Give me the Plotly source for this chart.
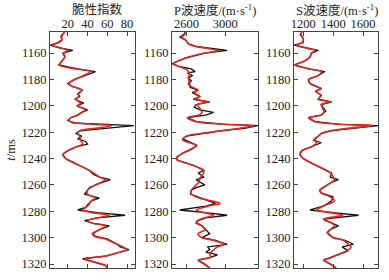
import plotly.graph_objects as go

# ---- Data ----
t_bi_black = [1144,1147,1150,1152,1154,1156,1158,1160,1163,1166,1169,1172,1174,1177,1180,1183,1185,1188,1191,1193,1195,1198,1200,1203,1205,1207,1209,1211,1213,1215,1217,1219,1221,1223,1225,1227,1229,1231,1234,1237,1240,1244,1249,1252,1254,1256,1258,1260,1262,1264,1267,1270,1272,1275,1277,1279,1281,1283,1285,1287,1289,1291,1294,1297,1299,1301,1305,1307,1309,1311,1314,1316,1318,1321,1323]
bi_black = [17,13,14,10,2,12,25,15,17,14,11,30,48,38,27,20,24,35,30,32,27,36,29,40,34,30,23,20,25,87,55,32,28,34,30,38,40,29,20,15,18,28,42,46,52,63,55,48,42,40,37,52,44,40,38,30,50,78,50,37,45,62,52,45,48,60,70,73,82,73,58,35,45,58,60]
t_bi_red = [1144,1147,1150,1152,1154,1156,1158,1160,1163,1166,1169,1172,1174,1177,1180,1183,1185,1188,1191,1193,1195,1198,1200,1203,1205,1207,1209,1211,1213,1215,1217,1219,1221,1223,1226,1229,1231,1234,1237,1240,1244,1249,1254,1256,1258,1260,1264,1267,1270,1272,1276,1279,1281,1283,1285,1287,1289,1291,1294,1297,1299,1301,1305,1309,1311,1314,1316,1318,1321,1323]
bi_red = [17,14,14,11,4,12,20,16,17,14,11,28,43,36,27,21,24,34,31,31,28,33,30,38,34,30,23,21,28,65,48,32,30,32,33,35,29,20,15,18,28,42,52,58,54,48,40,40,48,44,40,35,45,62,50,40,45,58,52,45,47,58,70,80,72,58,37,45,58,60]

t_vp_black = [1144,1146,1148,1150,1153,1155,1158,1160,1164,1168,1170,1172,1174,1175,1177,1179,1181,1183,1186,1188,1190,1193,1195,1197,1199,1201,1203,1205,1207,1209,1212,1214,1215,1217,1219,1221,1223,1225,1228,1230,1233,1236,1239,1241,1243,1246,1249,1251,1254,1256,1258,1260,1262,1264,1267,1270,1274,1276,1279,1281,1283,1285,1287,1289,1291,1294,1297,1300,1302,1305,1307,1309,1311,1313,1315,1317,1320,1323]
vp_black = [2590,2570,2530,2590,2620,2700,3020,2790,2580,2450,2520,2650,2690,2610,2660,2620,2650,2620,2640,2720,2660,2740,2670,2840,2700,2680,2740,2880,2800,2610,2700,3000,3340,3200,2950,2750,2600,2560,2640,2710,2650,2560,2500,2500,2580,2700,2780,2720,2780,2700,2740,2790,2700,2650,2640,2760,2900,2800,2530,2800,3020,2800,2720,2700,2760,2800,2840,2760,2900,3020,2820,2840,2800,2920,2850,2720,2790,2840]
t_vp_red = [1144,1146,1148,1150,1153,1155,1158,1160,1164,1168,1170,1173,1176,1179,1182,1185,1188,1190,1193,1195,1197,1199,1202,1205,1207,1209,1212,1214,1215,1217,1219,1221,1223,1226,1230,1233,1236,1239,1241,1243,1246,1249,1252,1255,1258,1260,1264,1267,1270,1274,1276,1279,1281,1283,1285,1288,1291,1294,1297,1300,1302,1305,1307,1310,1312,1315,1317,1320,1323]
vp_red = [2590,2580,2550,2590,2620,2700,2930,2790,2580,2460,2520,2610,2630,2620,2630,2640,2720,2680,2740,2680,2830,2710,2740,2760,2730,2610,2700,3000,3300,3150,2950,2750,2600,2560,2700,2640,2560,2500,2500,2580,2700,2780,2770,2740,2730,2700,2650,2650,2730,2950,2830,2700,2780,2880,2780,2700,2760,2790,2720,2760,2880,2990,2920,2870,2840,2850,2720,2780,2840]

t_vs_black = [1144,1146,1149,1152,1154,1156,1158,1160,1163,1166,1169,1172,1174,1177,1180,1183,1187,1189,1192,1195,1197,1199,1202,1204,1207,1209,1212,1214,1215,1217,1219,1221,1223,1226,1228,1231,1234,1237,1240,1244,1247,1251,1254,1256,1258,1260,1264,1266,1269,1272,1276,1279,1281,1283,1286,1289,1291,1294,1296,1300,1302,1305,1307,1310,1312,1315,1317,1320,1323]
vs_black = [1190,1180,1200,1200,1140,1220,1300,1255,1245,1210,1140,1235,1345,1300,1235,1245,1320,1280,1320,1300,1390,1320,1340,1350,1320,1235,1280,1450,1700,1520,1380,1320,1300,1270,1320,1255,1190,1178,1200,1265,1320,1390,1380,1435,1390,1360,1310,1320,1400,1390,1335,1245,1400,1570,1335,1400,1435,1380,1360,1400,1480,1535,1460,1500,1450,1390,1335,1380,1420]
t_vs_red = [1144,1146,1149,1152,1154,1156,1158,1160,1163,1166,1169,1172,1174,1177,1180,1183,1187,1189,1192,1195,1197,1199,1202,1205,1207,1209,1212,1214,1215,1217,1219,1221,1223,1226,1228,1231,1234,1237,1240,1244,1247,1251,1254,1256,1258,1260,1264,1266,1269,1272,1276,1279,1281,1283,1286,1289,1291,1294,1296,1300,1302,1305,1307,1310,1312,1315,1317,1320,1323]
vs_red = [1190,1185,1200,1195,1155,1210,1280,1255,1245,1210,1145,1240,1320,1300,1235,1245,1320,1285,1320,1300,1385,1320,1330,1340,1320,1235,1280,1450,1665,1500,1380,1320,1300,1270,1290,1255,1190,1178,1200,1265,1320,1385,1400,1410,1390,1360,1310,1320,1380,1410,1335,1290,1380,1465,1335,1390,1410,1380,1360,1400,1470,1500,1520,1490,1450,1390,1335,1380,1420]

titles = ["脆性指数", "P波速度/(m·s<sup>-1</sup>)", "S波速度/(m·s<sup>-1</sup>)"]
x_ranges = [[2, 88], [2450, 3340], [1138, 1700]]
x_ticks = [[20, 40, 60, 80], [2600, 3000], [1200, 1400, 1600]]
y_ticks = [1160, 1180, 1200, 1220, 1240, 1260, 1280, 1300, 1320]
y_range = [1323, 1144]

W, H = 389, 280
x_doms = [[50 / W, 135 / W], [172 / W, 258 / W], [294 / W, 378 / W]]
y_dom = [(H - 268) / H, (H - 32) / H]
title_cx = [97 / W, 215 / W, 337 / W]

FONT = "Liberation Serif, Times New Roman, Noto Sans CJK SC, serif"
BLACK = "#111111"
RED = "#e3261f"

fig = go.Figure()
series = [
    (t_bi_black, bi_black, t_bi_red, bi_red),
    (t_vp_black, vp_black, t_vp_red, vp_red),
    (t_vs_black, vs_black, t_vs_red, vs_red),
]
for i, (tb, vb, tr, vr) in enumerate(series):
    xa = "x" if i == 0 else f"x{i+1}"
    ya = "y" if i == 0 else f"y{i+1}"
    fig.add_trace(go.Scatter(x=vb, y=tb, mode="lines", xaxis=xa, yaxis=ya,
                             line=dict(color=BLACK, width=1.3), showlegend=False))
    fig.add_trace(go.Scatter(x=vr, y=tr, mode="lines", xaxis=xa, yaxis=ya,
                             line=dict(color=RED, width=1.6, shape="spline", smoothing=0.8),
                             showlegend=False))

layout = dict(
    width=W, height=H,
    margin=dict(l=0, r=0, t=0, b=0, autoexpand=False),
    paper_bgcolor="white", plot_bgcolor="white",
    font=dict(family=FONT, size=12, color="#222222"),
)
for i in range(3):
    xk = "xaxis" if i == 0 else f"xaxis{i+1}"
    yk = "yaxis" if i == 0 else f"yaxis{i+1}"
    ya = "y" if i == 0 else f"y{i+1}"
    xa = "x" if i == 0 else f"x{i+1}"
    layout[xk] = dict(
        domain=x_doms[i], range=x_ranges[i], anchor=ya, side="top",
        tickvals=x_ticks[i], ticks="inside", ticklen=4, tickcolor="#444",
        mirror="ticks", showline=True, linecolor="#444", linewidth=1,
        showgrid=False, zeroline=False, tickfont=dict(size=12.5, family=FONT),
        automargin=False, ticklabelstandoff=-2,
    )
    layout[yk] = dict(
        domain=y_dom, range=y_range, anchor=xa,
        tickvals=y_ticks, ticks="inside", ticklen=4, tickcolor="#444",
        mirror="ticks", showline=True, linecolor="#444", linewidth=1,
        showgrid=False, zeroline=False, tickfont=dict(size=12.5, family=FONT),
        automargin=False,
    )
layout["yaxis"]["title"] = dict(text="<i>t</i>/ms", font=dict(size=12.5, family=FONT), standoff=3)
layout["annotations"] = [
    dict(text=titles[i], x=title_cx[i], y=(H - 10) / H, xref="paper", yref="paper",
         xanchor="center", yanchor="middle", showarrow=False, borderpad=0,
         font=dict(size=12.5, family=FONT, color="#222222"))
    for i in range(3)
]
fig.update_layout(**layout)

fig.write_html("out.html", config={"displayModeBar": False},
               post_script="document.body.style.margin='0';document.body.style.padding='0';")
